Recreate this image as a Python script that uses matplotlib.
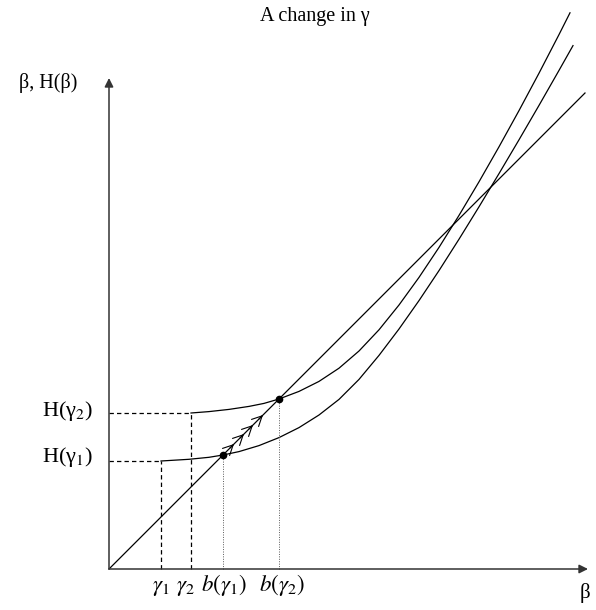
import matplotlib
matplotlib.use('Agg')
import matplotlib.pyplot as plt

plt.rcParams['font.family'] = ['Liberation Serif', 'DejaVu Serif']
plt.rcParams['mathtext.fontset'] = 'stix'

# --- values (1 unit = 100 px) ---
gamma = [0.52, 0.82]          # gamma_1, gamma_2 on the beta axis
H_gamma = [1.08, 1.56]        # H(gamma_1), H(gamma_2)
b_gamma = [1.14, 1.70]        # b(gamma_1), b(gamma_2): fixed points on the 45 deg line

# H(beta) for gamma_1 (lower curve)
beta_low = [0.52, 0.8, 1.0, 1.14, 1.3, 1.5, 1.7, 1.9, 2.1, 2.3, 2.5,
            2.7, 2.9, 3.1, 3.3, 3.5, 3.7, 3.9, 4.1, 4.3, 4.5, 4.64]
H_low = [1.08, 1.097, 1.117, 1.14, 1.174, 1.234, 1.314, 1.414, 1.540, 1.696, 1.896,
         2.136, 2.400, 2.684, 2.984, 3.298, 3.622, 3.954, 4.292, 4.636, 4.986, 5.234]

# H(beta) for gamma_2 (upper curve)
beta_up = [0.82, 1.0, 1.2, 1.4, 1.55, 1.7, 1.9, 2.1, 2.3, 2.5, 2.7,
           2.9, 3.1, 3.3, 3.5, 3.7, 3.9, 4.1, 4.3, 4.5, 4.61]
H_up = [1.56, 1.574, 1.596, 1.626, 1.656, 1.70, 1.776, 1.876, 2.008, 2.180, 2.392,
        2.640, 2.916, 3.216, 3.536, 3.872, 4.222, 4.584, 4.958, 5.344, 5.562]

diag_end = 4.76
arrow_pos = [1.25, 1.35, 1.44, 1.54]   # chevrons along the 45 deg line
x_labels = [r'$\gamma_1$', r'$\gamma_2$', r'$b(\gamma_1)$', r'$b(\gamma_2)$']
x_label_shift = [0, -4, 1, 2]          # small nudges in points

fig = plt.figure(figsize=(5.96, 6.10), dpi=100)
ax = fig.add_axes([0, 0, 1, 1])
ax.set_xlim(-1.09, 4.87)
ax.set_ylim(-0.41, 5.69)
ax.axis('off')

# axes with arrow heads
ax.annotate('', xy=(4.79, 0), xytext=(0, 0),
            arrowprops=dict(arrowstyle='-|>', color='0.2', lw=1.1,
                            mutation_scale=13, shrinkA=0, shrinkB=0))
ax.annotate('', xy=(0, 4.91), xytext=(0, 0),
            arrowprops=dict(arrowstyle='-|>', color='0.2', lw=1.1,
                            mutation_scale=13, shrinkA=0, shrinkB=0))

# curves
ax.plot([0, diag_end], [0, diag_end], color='black', lw=0.9)
ax.plot(beta_low, H_low, color='black', lw=0.9)
ax.plot(beta_up, H_up, color='black', lw=0.9)

# dashed guides to H(gamma)
for g, h in zip(gamma, H_gamma):
    ax.plot([0, g], [h, h], color='black', lw=0.9, linestyle=(0, (3.5, 2.5)))
    ax.plot([g, g], [0, h], color='black', lw=0.9, linestyle=(0, (3.5, 2.5)))

# dotted guides from fixed points
for b in b_gamma:
    ax.plot([b, b], [0, b], color='0.35', lw=0.7, linestyle=(0, (1, 1.5)))
ax.plot(b_gamma, b_gamma, 'o', color='black', markersize=4.5)

# chevrons along diagonal
for t in arrow_pos:
    ax.annotate('', xy=(t, t), xytext=(t - 0.04, t - 0.04),
                arrowprops=dict(arrowstyle='->', color='black', lw=0.8,
                                mutation_scale=18, shrinkA=0, shrinkB=0))

# text
ax.text(2.06, 5.48, 'A change in γ', ha='center', va='baseline', fontsize=14.5)
ax.text(-0.61, 4.81, 'β, H(β)', ha='center', va='baseline', fontsize=14.5)
ax.text(-0.16, 1.53, 'H(γ$_2$)', ha='right', va='baseline', fontsize=16)
ax.text(-0.16, 1.07, 'H(γ$_1$)', ha='right', va='baseline', fontsize=16)
ax.text(4.76, -0.29, 'β', ha='center', va='baseline', fontsize=15)
for xpos, lab, dx in zip(gamma + b_gamma, x_labels, x_label_shift):
    ax.annotate(lab, xy=(xpos, -0.22), xytext=(dx, 0), textcoords='offset points',
                ha='center', va='baseline', fontsize=16.5)

fig.savefig('out.png', dpi=100)
